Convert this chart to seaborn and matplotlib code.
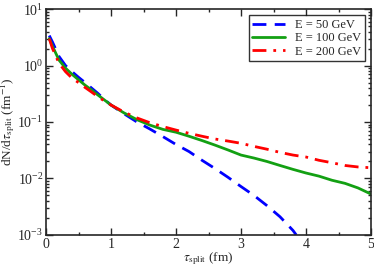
import matplotlib
matplotlib.use("Agg")
import matplotlib.pyplot as plt
import matplotlib.ticker as mticker
import numpy as np
import pandas as pd
import seaborn as sns

tau_50 = [0.05, 0.1, 0.2, 0.3, 0.4, 0.5, 0.6, 0.7, 0.8, 0.9, 1.0, 1.2, 1.4, 1.6, 1.8,
          2.0, 2.2, 2.4, 2.6, 2.8, 3.0, 3.2, 3.4, 3.6, 3.8, 3.85]
dn_50 = [3.4, 2.6, 1.45, 1.0, 0.78, 0.62, 0.5, 0.4, 0.32, 0.25, 0.2, 0.14, 0.1, 0.075, 0.055,
         0.04, 0.03, 0.021, 0.015, 0.0105, 0.0072, 0.005, 0.0033, 0.0021, 0.0012, 0.001]

tau_long = [0.05, 0.1, 0.2, 0.3, 0.4, 0.5, 0.6, 0.7, 0.8, 0.9, 1.0, 1.2, 1.4, 1.6, 1.8,
            2.0, 2.2, 2.4, 2.6, 2.8, 3.0, 3.2, 3.4, 3.6, 3.8, 4.0, 4.2, 4.4, 4.6, 4.8, 5.0]
dn_100 = [3.0, 2.2, 1.25, 0.9, 0.7, 0.56, 0.45, 0.37, 0.3, 0.245, 0.2, 0.145, 0.11, 0.088, 0.074,
          0.066, 0.056, 0.047, 0.039, 0.032, 0.026, 0.023, 0.02, 0.017, 0.0145, 0.0125, 0.011,
          0.0093, 0.0082, 0.0068, 0.0053]
dn_200 = [3.0, 2.0, 1.1, 0.78, 0.6, 0.5, 0.41, 0.34, 0.28, 0.235, 0.2, 0.15, 0.118, 0.097, 0.083,
          0.072, 0.063, 0.056, 0.05, 0.046, 0.042, 0.037, 0.033, 0.029, 0.026, 0.024, 0.021,
          0.019, 0.017, 0.016, 0.0155]

labels = ["E = 50 GeV", "E = 100 GeV", "E = 200 GeV"]

sns.set_style("ticks")
plt.rcParams["font.family"] = ["Liberation Serif", "DejaVu Serif"]
plt.rcParams["mathtext.fontset"] = "stix"

fig = plt.figure(figsize=(3.74, 2.67), dpi=100)
ax = fig.add_axes([0.123, 0.12, 0.869, 0.846])

sns.lineplot(x=tau_50, y=dn_50, ax=ax, color="#0000ff", lw=2, label=labels[0]).lines[-1].set_dashes([5, 3])
sns.lineplot(x=tau_long, y=dn_100, ax=ax, color="#13a013", lw=2, label=labels[1])
line = sns.lineplot(x=tau_long, y=dn_200, ax=ax, color="#ff0000", lw=2, label=labels[2]).lines[-1]
line.set_dashes([5, 2.5, 1, 2.5])

ax.set_yscale("log")
ax.set_xlim(0, 5)
ax.set_ylim(1e-3, 10)
ax.xaxis.set_major_locator(mticker.MultipleLocator(1))
ax.xaxis.set_minor_locator(mticker.MultipleLocator(0.5))
ax.yaxis.set_minor_locator(mticker.LogLocator(base=10, subs=np.arange(2, 10), numticks=10))
ax.yaxis.set_minor_formatter(mticker.NullFormatter())
ax.tick_params(which="both", direction="in", top=True, right=True, labelsize=10, width=1, pad=2)
ax.tick_params(which="major", length=5)
ax.tick_params(which="minor", length=2.5)
for s in ax.spines.values():
    s.set_linewidth(1.2)

ax.set_xlabel(r"$\tau_{\rm split}$ (fm)", fontsize=9.5, labelpad=0)
ax.set_ylabel(r"dN/d$\tau_{\rm split}$ (fm$^{-1}$)", fontsize=9.5, labelpad=0)

leg = ax.legend(loc="upper right", fontsize=9, frameon=True, fancybox=False,
                edgecolor="black", borderpad=0.3, labelspacing=0.1, handlelength=2.6,
                borderaxespad=0.5)
leg.get_frame().set_linewidth(1)

fig.savefig("out.png", dpi=100)
